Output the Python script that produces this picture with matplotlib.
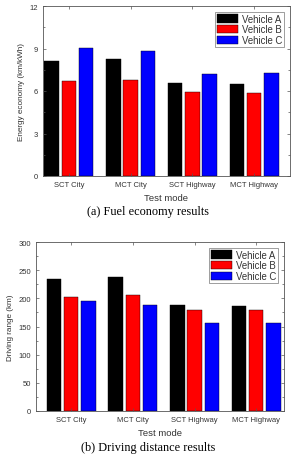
import matplotlib
matplotlib.use("Agg")
import matplotlib.pyplot as plt
import numpy as np
from matplotlib.ticker import AutoMinorLocator

modes = ["SCT City", "MCT City", "SCT Highway", "MCT Highway"]
vehicles = ["Vehicle A", "Vehicle B", "Vehicle C"]
colors = ["#000000", "#ff0000", "#0000ff"]

economy_A = [8.14, 8.28, 6.54, 6.47]
economy_B = [6.68, 6.75, 5.91, 5.84]
economy_C = [9.06, 8.82, 7.18, 7.29]

range_A = [234.5, 238, 187.5, 186.5]
range_B = [202.5, 205.5, 178.5, 178.5]
range_C = [194.5, 188.5, 155.5, 155.5]

W, H = 294, 456
fig = plt.figure(figsize=(W/100, H/100), dpi=100)
plt.rcParams['font.family'] = ['Liberation Sans', 'DejaVu Sans']

def ax_rect(l, t, r, b):
    return [l/W, 1 - b/H, (r-l)/W, (b-t)/H]

def draw(ax, series, ylim, yticks, ylabel, xlim):
    x = np.arange(len(modes))
    bw = 0.235
    off = 0.28
    for i, (vals, c, name) in enumerate(zip(series, colors, vehicles)):
        ax.bar(x + (i-1)*off, vals, bw, color=c, edgecolor='black', linewidth=0.3, label=name)
    ax.set_xlim(*xlim)
    ax.set_ylim(*ylim)
    ax.set_yticks(yticks)
    ax.set_xticks(x)
    ax.set_xticklabels(modes, fontsize=5.5, color='#333333')
    ax.tick_params(axis='y', labelsize=5.5, labelcolor='#333333')
    ax.yaxis.set_minor_locator(AutoMinorLocator(2))
    ax.tick_params(direction='in', which='both', top=True, right=True, width=0.5, color='#555555')
    ax.tick_params(which='major', length=2.5)
    ax.tick_params(which='minor', length=1.3)
    ax.tick_params(axis='x', which='minor', bottom=False, top=False)
    for s in ax.spines.values():
        s.set_linewidth(0.6)
        s.set_color('#555555')
    ax.set_ylabel(ylabel, fontsize=5.9, color='#333333', labelpad=3)
    ax.set_xlabel("Test mode", fontsize=6.8, color='#333333', labelpad=4)
    leg = ax.legend(loc='upper right', fontsize=6.9, frameon=True, fancybox=False,
                    edgecolor='#555555', handlelength=2.2, handleheight=1.0,
                    handletextpad=0.4, labelspacing=0.08, borderpad=0.2,
                    borderaxespad=0.6, labelcolor='#333333')
    leg.get_frame().set_linewidth(0.5)

ax1 = fig.add_axes(ax_rect(43, 7, 290, 177))
draw(ax1, [economy_A, economy_B, economy_C], (0, 12), [0, 3, 6, 9, 12],
     "Energy economy (km/kWh)", (-0.42, 3.58))
ax2 = fig.add_axes(ax_rect(36, 243, 284, 412))
draw(ax2, [range_A, range_B, range_C], (0, 300), [0, 50, 100, 150, 200, 250, 300],
     "Driving range (km)", (-0.57, 3.45))

fig.text(148/W, 1 - 212/H, "(a) Fuel economy results", ha='center', va='center',
         fontsize=8.8, family=['Liberation Serif', 'DejaVu Serif'])
fig.text(148/W, 1 - 448/H, "(b) Driving distance results", ha='center', va='center',
         fontsize=8.8, family=['Liberation Serif', 'DejaVu Serif'])

fig.savefig("out.png", dpi=100)
